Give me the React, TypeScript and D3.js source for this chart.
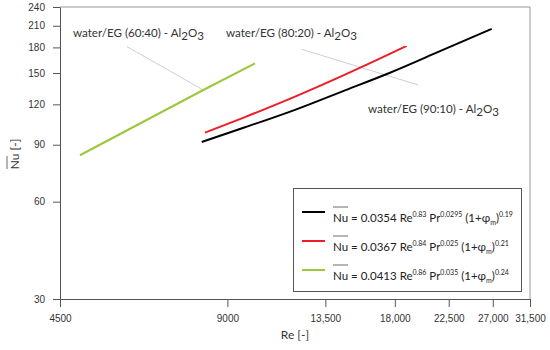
import { useEffect, useRef } from "react";
import * as d3 from "d3";

// values (log-log axes)
const xTicks = [4500, 9000, 13500, 18000, 22500, 27000, 31500];
const yTicks = [30, 60, 90, 120, 150, 180, 210, 240];

const blackRe = [8091, 9680, 11906, 14643, 17644, 21703, 26880];
const blackNu = [91.8, 101.9, 115.4, 132.6, 150.3, 175.2, 205.5];
const redRe = [8202, 9680, 11906, 14643, 16464, 18906];
const redNu = [98.1, 109.6, 126.8, 148.3, 162.7, 182.0];
const greenRe = [4888, 8145, 10089];
const greenNu = [83.5, 132.9, 160.7];

const seriesNames = ["90:10", "80:20", "60:40"];
const seriesColors = ["#000000", "#ee1c25", "#9bc83c"];
const coefs = ["0.0354", "0.0367", "0.0413"];
const reExp = ["0.83", "0.84", "0.86"];
const prExp = ["0.0295", "0.025", "0.035"];
const phiExp = ["0.19", "0.21", "0.24"];

// leader lines [Re, Nu] -> [Re, Nu]
const leaderFrom = [[12241, 177.6], [5939, 180.9]];
const leaderTo = [[19836, 137.7], [8145, 132.9]];

const labelFont = "Lato, 'Open Sans', sans-serif";
const tickFont = "'Liberation Sans', Arial, sans-serif";

export default function App() {
  const ref = useRef<SVGSVGElement>(null);
  const width = 550;
  const height = 350;
  const left = 60;
  const right = 530;
  const top = 7;
  const bottom = 299;

  useEffect(() => {
    const svg = d3.select(ref.current);
    svg.selectAll("*").remove();

    const x = d3.scaleLog().domain([4500, 31500]).range([left, right]);
    const y = d3.scaleLog().domain([30, 240]).range([bottom, top]);

    // frame
    svg.append("line").attr("x1", left).attr("x2", right).attr("y1", top).attr("y2", top)
      .attr("stroke", "#999");
    svg.append("line").attr("x1", right).attr("x2", right).attr("y1", top).attr("y2", bottom)
      .attr("stroke", "#999");

    const yAxis = svg.append("g")
      .attr("transform", `translate(${left},0)`)
      .call(
        d3.axisLeft(y).tickValues(yTicks).tickFormat(d3.format("d")).tickSize(7).tickSizeOuter(0)
      );
    const xAxis = svg.append("g")
      .attr("transform", `translate(0,${bottom})`)
      .call(
        d3.axisBottom(x)
          .tickValues(xTicks)
          .tickFormat((d: any) => (d >= 10000 ? d3.format(",")(d) : String(d)))
          .tickSize(8)
          .tickSizeOuter(0)
          .tickPadding(8)
      );
    [xAxis, yAxis].forEach((g) => {
      g.selectAll("path,line").attr("stroke", "#555");
      g.selectAll("text").attr("font-family", tickFont).attr("font-size", 10).attr("fill", "#333");
    });
    yAxis.selectAll("text").attr("x", -15);

    // leader lines
    leaderFrom.forEach((p, i) => {
      svg.append("line")
        .attr("x1", x(p[0])).attr("y1", y(p[1]))
        .attr("x2", x(leaderTo[i][0])).attr("y2", y(leaderTo[i][1]))
        .attr("stroke", "#cfcfcf").attr("stroke-width", 1);
    });

    const lineGen = d3.line<[number, number]>()
      .x((d) => x(d[0]))
      .y((d) => y(d[1]))
      .curve(d3.curveMonotoneX);

    const series = [
      blackRe.map((r, i) => [r, blackNu[i]] as [number, number]),
      redRe.map((r, i) => [r, redNu[i]] as [number, number]),
      greenRe.map((r, i) => [r, greenNu[i]] as [number, number]),
    ];
    series.forEach((s, i) => {
      svg.append("path").attr("d", lineGen(s)).attr("fill", "none")
        .attr("stroke", seriesColors[i]).attr("stroke-width", 2);
    });

    // series labels
    const labelPos = [[368, 113], [226, 37], [73, 37]];
    seriesNames.forEach((n, i) => {
      const t = svg.append("text")
        .attr("x", labelPos[i][0]).attr("y", labelPos[i][1])
        .attr("font-family", labelFont).attr("font-size", 11.6).attr("fill", "#333");
      t.append("tspan").text(`water/EG (${n}) - Al`);
      t.append("tspan").attr("dy", 3).text("2");
      t.append("tspan").attr("dy", -3).text("O");
      t.append("tspan").attr("dy", 3).text("3");
    });

    // legend
    svg.append("rect").attr("x", 293.5).attr("y", 188.5).attr("width", 228).attr("height", 103)
      .attr("fill", "#fff").attr("stroke", "#555");
    const rowY = [212, 241, 270];
    rowY.forEach((ry, i) => {
      svg.append("line").attr("x1", 302).attr("x2", 325).attr("y1", ry).attr("y2", ry)
        .attr("stroke", seriesColors[i]).attr("stroke-width", 2);
      const ty = ry + 10;
      svg.append("line").attr("x1", 333).attr("x2", 348).attr("y1", ty - 15).attr("y2", ty - 15)
        .attr("stroke", "#444").attr("stroke-width", 0.8);
      const t = svg.append("text").attr("x", 333).attr("y", ty)
        .attr("font-family", labelFont).attr("font-size", 11.5).attr("fill", "#222");
      t.append("tspan").text(`Nu = ${coefs[i]} Re`);
      t.append("tspan").attr("dy", -5).attr("font-size", 7).text(reExp[i]);
      t.append("tspan").attr("dy", 5).text(" Pr");
      t.append("tspan").attr("dy", -5).attr("font-size", 7).text(prExp[i]);
      t.append("tspan").attr("dy", 5).text(" (1+φ");
      t.append("tspan").attr("dy", 3).attr("font-size", 7).text("m");
      t.append("tspan").attr("dy", -3).text(")");
      t.append("tspan").attr("dy", -5).attr("font-size", 7).text(phiExp[i]);
    });

    // axis titles
    svg.append("text").attr("x", 295).attr("y", 339).attr("text-anchor", "middle")
      .attr("font-family", labelFont).attr("font-size", 12).attr("fill", "#333").text("Re [-]");
    svg.append("text")
      .attr("transform", "translate(19,154) rotate(-90)")
      .attr("text-anchor", "middle")
      .attr("font-family", labelFont).attr("font-size", 12).attr("fill", "#333").text("Nu [-]");
    svg.append("line").attr("x1", 7).attr("x2", 7).attr("y1", 156).attr("y2", 169)
      .attr("stroke", "#444").attr("stroke-width", 0.8);
  }, []);

  return (
    <svg
      ref={ref}
      width={width}
      height={height}
      style={{ position: "absolute", left: 0, top: 0, background: "#fff" }}
    />
  );
}
